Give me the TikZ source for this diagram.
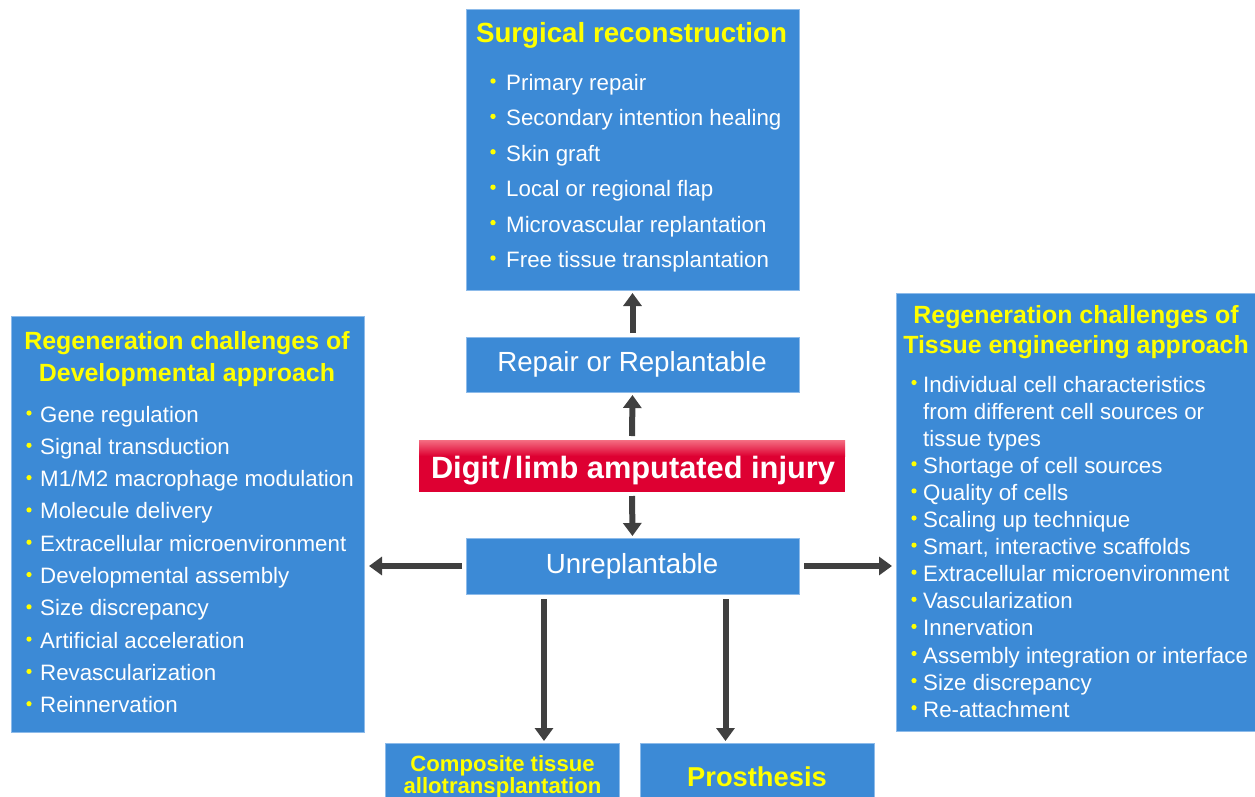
\documentclass[tikz,border=0pt]{standalone}
\usepackage{fontspec}
\setmainfont{Liberation Sans}
\usetikzlibrary{arrows.meta}
\definecolor{boxblue}{RGB}{60,138,214}
\definecolor{boxedge}{RGB}{141,187,234}
\definecolor{ylw}{RGB}{255,255,0}
\definecolor{redd}{RGB}{222,0,50}
\definecolor{redtop}{RGB}{244,110,130}
\definecolor{arrgray}{RGB}{64,64,64}
\begin{document}
\begin{tikzpicture}[x=1pt,y=-1pt,
  box/.style={draw=boxedge, fill=boxblue, line width=0.8pt, inner sep=0pt, outer sep=0pt, anchor=north west},
  itm/.style={text=white, font=\fontsize{22.3}{26}\selectfont, inner sep=0pt, anchor=base west},
  mid/.style={text=white, font=\fontsize{27.7}{32}\selectfont, inner sep=0pt, anchor=base},
  ttl/.style={text=ylw, font=\bfseries\fontsize{24.9}{30}\selectfont, inner sep=0pt, anchor=base},
  bigttl/.style={text=ylw, font=\bfseries\fontsize{27.7}{32}\selectfont, inner sep=0pt, anchor=base},
  arr/.style={draw=arrgray, line width=6pt, -{Triangle[length=13pt,width=18pt]}, shorten <=4pt, shorten >=3pt},
  bul/.style={fill=ylw}
]
\useasboundingbox (0,0) rectangle (1255,796);
\clip (0,0) rectangle (1255,796);
\fill[white] (0,0) rectangle (1255,796);

% ---- boxes
\node[box, minimum width=333pt, minimum height=281pt] (surg) at (466,9) {};
\node[box, minimum width=333pt, minimum height=55pt] (rep) at (466,337) {};
\node[box, minimum width=333pt, minimum height=56pt] (unrep) at (466,538) {};
\node[box, minimum width=353pt, minimum height=416pt] (dev) at (11,316) {};
\node[box, minimum width=364pt, minimum height=438pt] (tis) at (896,293) {};
\node[box, minimum width=234pt, minimum height=60pt] (cta) at (385,743) {};
\node[box, minimum width=234pt, minimum height=60pt] (pro) at (640,743) {};
\node[fill=redd, inner sep=0pt, outer sep=0pt, anchor=north west, minimum width=426pt, minimum height=52pt] (inj) at (419,440) {};
\shade[top color=redtop, bottom color=redd] (419,440) rectangle (845,456);

% ---- surgical reconstruction
\node[bigttl] (surgt) at (631.5,42) {Surgical reconstruction};
\foreach \t [count=\i] in {Primary repair, Secondary intention healing, Skin graft, Local or regional flap, Microvascular replantation, Free tissue transplantation}{
  \fill[bul] ({493},{90.5+35.4*(\i-1)-9.5}) circle (2.7pt);
  \node[itm] (s\i) at ({506},{90.5+35.4*(\i-1)}) {\t};
}

% ---- middle column
\node[mid] (rept) at (632,371.7) {Repair or Replantable};
\node[mid] (unrept) at (632,573.3) {Unreplantable};
\node[text=white, font=\bfseries\fontsize{30.8}{36}\selectfont, inner sep=0pt, anchor=base] (injt) at (633,478.3) {Digit\hspace{3.5pt}/\hspace{3.5pt}limb amputated injury};

% ---- developmental approach
\node[ttl] (devt1) at (187,349) {Regeneration challenges of};
\node[ttl] (devt2) at (187,381) {Developmental approach};
\foreach \t [count=\i] in {Gene regulation, Signal transduction, M1/M2 macrophage modulation, Molecule delivery, Extracellular microenvironment, Developmental assembly, Size discrepancy, Artificial acceleration, Revascularization, Reinnervation}{
  \fill[bul] ({29},{422+32.3*(\i-1)-9}) circle (2.6pt);
  \node[itm] (d\i) at ({40},{422+32.3*(\i-1)}) {\t};
}

% ---- tissue engineering approach
\node[ttl] (tist1) at (1076,323) {Regeneration challenges of};
\node[ttl] (tist2) at (1076,353) {Tissue engineering approach};
\foreach \t [count=\i] in {Individual cell characteristics, from different cell sources or, tissue types, Shortage of cell sources, Quality of cells, Scaling up technique, {Smart, interactive scaffolds}, Extracellular microenvironment, Vascularization, Innervation, Assembly integration or interface, Size discrepancy, Re-attachment}{
  \node[itm] (t\i) at ({923},{392+27.1*(\i-1)}) {\t};
}
\foreach \i in {1,4,5,6,7,8,9,10,11,12,13}{
  \fill[bul] ({914},{392+27.1*(\i-1)-9.5}) circle (2.6pt);
}

% ---- bottom boxes
\node[text=ylw, font=\bfseries\fontsize{22.1}{22.5}\selectfont, inner sep=0pt, anchor=base] (ctat1) at (502.5,771) {Composite tissue};
\node[text=ylw, font=\bfseries\fontsize{22.1}{22.5}\selectfont, inner sep=0pt, anchor=base] (ctat2) at (502.5,793.5) {allotransplantation};
\node[bigttl, font=\bfseries\fontsize{27.3}{32}\selectfont] (prot) at (757,786) {Prosthesis};

% ---- arrows
\coordinate (d1x) at (544,0);
\coordinate (d2x) at (725.5,0);
\draw[arr] (rep.north) -- (surg.south);
\draw[arr] (inj.north) -- (rep.south);
\draw[arr, shorten >=2pt] (inj.south) -- (unrep.north);
\draw[arr, shorten >=5pt] (unrep.west) -- (dev.east |- unrep.west);
\draw[arr, shorten <=5pt, shorten >=4pt] (unrep.east) -- (tis.west |- unrep.east);
\draw[arr, shorten <=5pt, shorten >=2pt] (unrep.south -| d1x) -- (cta.north -| d1x);
\draw[arr, shorten <=5pt, shorten >=2pt] (unrep.south -| d2x) -- (pro.north -| d2x);
\end{tikzpicture}
\end{document}
